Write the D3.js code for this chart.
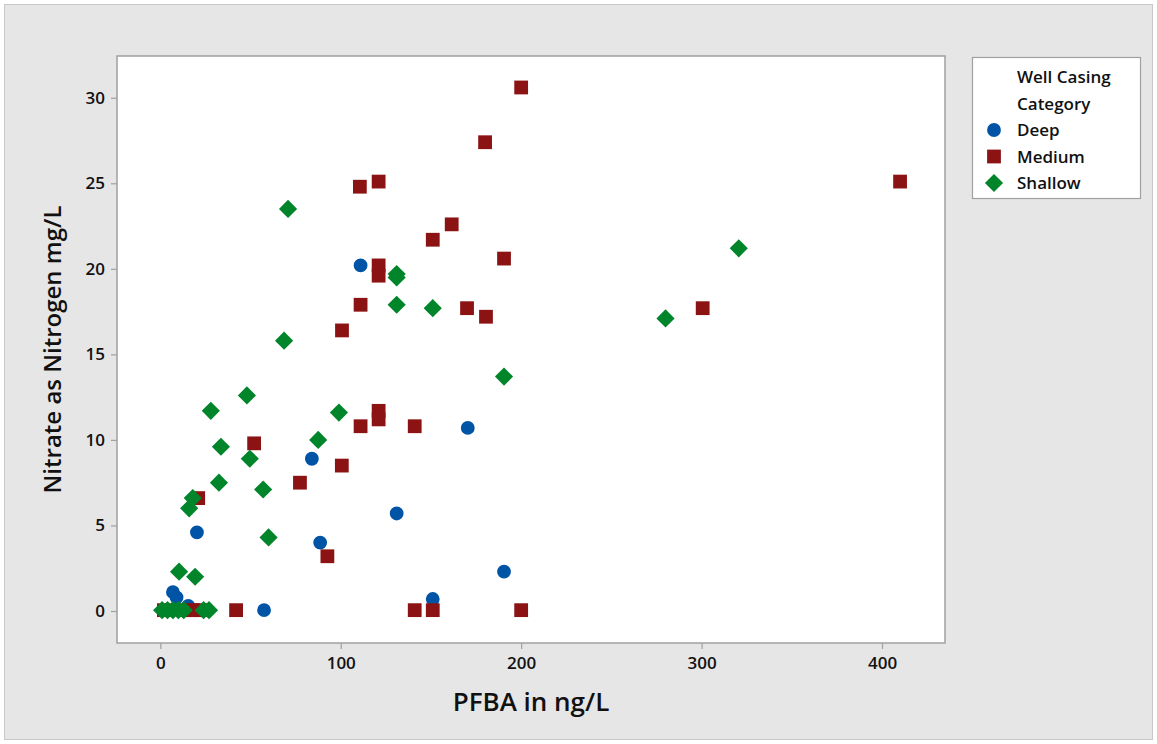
<!DOCTYPE html>
<html>
<head>
<meta charset="utf-8">
<script src="https://cdn.jsdelivr.net/npm/d3@7"></script>
<style>
  body { margin: 0; background: #fff; }
  svg text { font-family: "Open Sans", "Noto Sans", sans-serif; fill: #111; }
</style>
</head>
<body>
<svg id="chart" width="1157" height="744"></svg>
<script>
// PFBA (ng/L) and nitrate (mg/L), per well casing group
const deepX = [111, 84, 88.6, 131, 170.4, 190.5, 151, 57.5, 20.3, 7, 9, 15.5];
const deepY = [20.2, 8.9, 4.0, 5.7, 10.7, 2.3, 0.7, 0.05, 4.6, 1.1, 0.8, 0.3];

const mediumX = [200, 180, 110.6, 121, 410, 161.5, 151, 190.5, 121, 121, 111, 100.7, 170, 180.5, 300.6,
                 121, 121, 111, 141, 52, 100.6, 77.4, 92.6, 21, 42, 141, 151, 200, 2, 14, 18, 22];
const mediumY = [30.6, 27.4, 24.8, 25.1, 25.1, 22.6, 21.7, 20.6, 20.2, 19.6, 17.9, 16.4, 17.7, 17.2, 17.7,
                 11.7, 11.2, 10.8, 10.8, 9.8, 8.5, 7.5, 3.2, 6.6, 0.05, 0.05, 0.05, 0.05, 0.05, 0.05, 0.05, 0.05];

const shallowX = [70.8, 320.6, 131, 131, 131, 151, 280, 68.6, 190.5, 48, 28, 99, 87.5, 33.6, 49.6, 32.5, 57,
                  60, 18, 16, 10.4, 19.3, 1, 4, 7, 10, 13, 24, 27];
const shallowY = [23.5, 21.2, 19.7, 19.5, 17.9, 17.7, 17.1, 15.8, 13.7, 12.6, 11.7, 11.6, 10.0, 9.6, 8.9, 7.5, 7.1,
                  4.3, 6.6, 6.0, 2.3, 2.0, 0.05, 0.05, 0.05, 0.05, 0.05, 0.05, 0.05];

const xTicks = [0, 100, 200, 300, 400];
const yTicks = [0, 5, 10, 15, 20, 25, 30];
const categories = ["Deep", "Medium", "Shallow"];
const colors = ["#0054a6", "#8c1313", "#00852a"];

const svg = d3.select("#chart");
const W = 1157, H = 744;
const plot = { left: 117, top: 56, right: 945, bottom: 643 };

// outer panel
svg.append("rect")
    .attr("x", 4.5).attr("y", 4.5)
    .attr("width", W - 9).attr("height", H - 9)
    .attr("fill", "#e6e6e6")
    .attr("stroke", "#c8c8c8");

svg.append("rect")
    .attr("x", plot.left).attr("y", plot.top)
    .attr("width", plot.right - plot.left).attr("height", plot.bottom - plot.top)
    .attr("fill", "#fff")
    .attr("stroke", "#a0a0a0")
    .attr("stroke-width", 1.5);

const x = d3.scaleLinear().domain([-24, 434.9]).range([plot.left, plot.right]);
const y = d3.scaleLinear().domain([-1.87, 32.44]).range([plot.bottom, plot.top]);

const xAxis = svg.append("g")
    .attr("transform", "translate(0," + plot.bottom + ")")
    .call(d3.axisBottom(x).tickValues(xTicks).tickSize(6).tickPadding(8));
const yAxis = svg.append("g")
    .attr("transform", "translate(" + plot.left + ",0)")
    .call(d3.axisLeft(y).tickValues(yTicks).tickSize(6).tickPadding(6));

[xAxis, yAxis].forEach(ax => {
    ax.select(".domain").remove();
    ax.selectAll(".tick line").attr("stroke", "#a0a0a0").attr("stroke-width", 1.2);
    ax.selectAll(".tick text")
        .attr("font-size", 17)
        .attr("font-weight", 600)
        .attr("font-family", "'Open Sans', 'Noto Sans', sans-serif")
        .attr("fill", "#111");
});

// points: circle, square, and a square turned 45 degrees for the diamond
const symbols = [d3.symbolCircle, d3.symbolSquare, d3.symbolSquare];
const sizes = [150, 190, 165];
const rot = [0, 0, 45];
const groups = [
    d3.zip(deepX, deepY),
    d3.zip(mediumX, mediumY),
    d3.zip(shallowX, shallowY)
];

groups.forEach((pts, i) => {
    svg.append("g")
        .selectAll("path")
        .data(pts)
        .join("path")
        .attr("transform", d => "translate(" + x(d[0]) + "," + y(d[1]) + ") rotate(" + rot[i] + ")")
        .attr("d", d3.symbol().type(symbols[i]).size(sizes[i]))
        .attr("fill", colors[i]);
});

// axis titles
svg.append("text")
    .attr("x", (plot.left + plot.right) / 2)
    .attr("y", 711)
    .attr("text-anchor", "middle")
    .attr("font-size", 26)
    .attr("font-weight", 600)
    .text("PFBA in ng/L");

svg.append("text")
    .attr("transform", "translate(61," + ((plot.top + plot.bottom) / 2) + ") rotate(-90)")
    .attr("text-anchor", "middle")
    .attr("font-size", 24)
    .attr("font-weight", 600)
    .text("Nitrate as Nitrogen mg/L");

// legend
const legend = svg.append("g");
legend.append("rect")
    .attr("x", 972.5).attr("y", 57.5)
    .attr("width", 168).attr("height", 141)
    .attr("fill", "#fff")
    .attr("stroke", "#a0a0a0")
    .attr("stroke-width", 1.2);

legend.append("text").attr("x", 1017).attr("y", 83)
    .attr("font-size", 17).attr("font-weight", 600).text("Well Casing");
legend.append("text").attr("x", 1017).attr("y", 110)
    .attr("font-size", 17).attr("font-weight", 600).text("Category");

const legendItems = legend.selectAll(".legend-item")
    .data(categories)
    .join("g")
    .attr("class", "legend-item")
    .attr("transform", (d, i) => "translate(994," + (130 + i * 26.5) + ")");

legendItems.append("path")
    .attr("d", (d, i) => d3.symbol().type(symbols[i]).size(sizes[i])())
    .attr("transform", (d, i) => "rotate(" + rot[i] + ")")
    .attr("fill", (d, i) => colors[i]);

legendItems.append("text")
    .attr("x", 23)
    .attr("y", 6)
    .attr("font-size", 17)
    .attr("font-weight", 600)
    .text(d => d);
</script>
</body>
</html>
